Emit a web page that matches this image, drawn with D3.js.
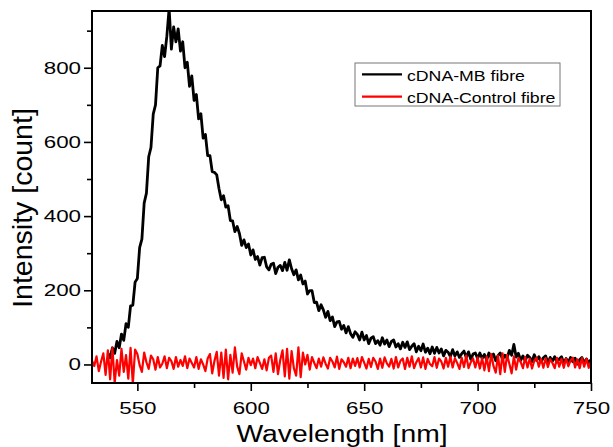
<!DOCTYPE html>
<html>
<head>
<meta charset="utf-8">
<script src="https://cdn.jsdelivr.net/npm/d3@7"></script>
<style>
  body { margin: 0; background: #fff; }
  text { font-family: "Liberation Sans", Arial, sans-serif; }
</style>
</head>
<body>
<svg id="chart"></svg>
<script>
// cDNA-MB fibre, 1 nm steps starting at 537 nm
const mbStart = 537;
const mbValues = [
  30, 18, 45, 30, 62, 45, 82, 65, 110, 100, 158, 160, 222, 232, 315, 338, 435, 462, 560, 585, 675, 700, 800, 805,
  860, 830, 885, 960, 850, 910, 870, 905, 845, 870, 800, 815, 750, 778, 712, 728, 662, 676, 610, 620,
  563, 563, 520, 518, 511, 474, 444, 455, 424, 428, 388, 387, 358, 372, 353, 321, 336, 315, 325, 295,
  309, 283, 291, 268, 288, 289, 263, 255, 270, 273, 245, 262, 267, 253, 275, 254, 282, 258, 242, 255,
  228, 241, 217, 225, 190, 199, 199, 167, 168, 145, 161, 147, 127, 143, 118, 128, 102, 115, 116, 95,
  105, 85, 102, 83, 73, 88, 81, 66, 87, 66, 78, 56, 71, 75, 56, 64, 52, 72, 55, 66,
  48, 62, 66, 47, 56, 42, 60, 46, 61, 40, 49, 56, 34, 49, 37, 55, 33, 44, 29, 47,
  30, 46, 31, 42, 23, 38, 33, 21, 40, 23, 34, 19, 29, 36, 19, 34, 14, 28, 31, 16,
  31, 16, 27, 12, 31, 18, 28, 10, 24, 31, 13, 25, 17, 38, 25, 54, 20, 30, 11, 23,
  10, 25, 19, 8, 26, 11, 21, 7, 18, 23, 4, 19, 9, 21, 6, 15, 21, 4, 16, 5,
  19, 7, 17, 1, 13, 19, 4, 15, 2, 14
];

// cDNA-Control fibre, 1 nm steps starting at 530 nm
const ctrlStart = 530;
const ctrlValues = [
  10, -4, 22, -18, 8, 30, -28, 38, -40, 45, -50, 12, -30, 42, -20, 25, -38, 45, -52, 40,
  28, -2, -20, 32, 6, -12, 24, 14, -14, 20, -8, 2, 22, -10, 18, 9, -12, 20, -6, 12,
  -4, 22, -10, 16, 4, -8, 20, -12, 14, 0, -18, 16, 28, -24, 10, 34, -30, 32, -36, 40,
  -40, 26, -22, 46, -6, -26, 30, 8, -14, 18, -2, 16, -10, 20, 4, -12, 14, -16, 18, 24,
  -20, 30, -26, 12, 38, -32, 42, -38, 36, -10, -30, 46, -34, 32, 0, 26, -14, 20, 4, -10,
  16, -6, 19, 2, -11, 18, 8, -8, 21, -12, 14, 6, -6, 18, -10, 16, -4, 17, -8, 20,
  5, -11, 15, -7, 18, 8, -12, 16, -9, 19, 3, -6, 15, -11, 20, -8, 10, 16, -12, 18,
  -6, 22, -10, 6, 17, -8, 19, -12, 15, 1, -5, 20, -9, 16, 8, -11, 18, -6, 21, -8,
  17, 4, -12, 18, -7, 24, -10, 6, 16, -8, 19, -11, 17, -16, 21, -18, 28, -4, -22, 24,
  -26, 30, -20, 26, 2, -24, 22, -14, 18, 6, -10, 20, -8, 16, -11, 10, 18, -6, 15, -9,
  17, -7, 14, 4, -10, 18, -6, 15, -9, 16, -5, 11, 18, -8, 14, -10, 17, -6, 15, -9,
  10
];

const xTicks = [550, 600, 650, 700, 750];
const yTicks = [0, 200, 400, 600, 800];
const seriesNames = ["cDNA-MB fibre", "cDNA-Control fibre"];
const seriesColors = ["#000000", "#ff0000"];

const width = 613, height = 447;
const margin = { top: 11, right: 22, bottom: 64, left: 92 };
const innerW = width - margin.left - margin.right;
const innerH = height - margin.top - margin.bottom;

const svg = d3.select("#chart").attr("width", width).attr("height", height);
const g = svg.append("g").attr("transform", `translate(${margin.left},${margin.top})`);

const x = d3.scaleLinear().domain([530, 750]).range([0, innerW]);
const y = d3.scaleLinear().domain([-50, 953]).range([innerH, 0]);

const mbData = mbValues.map((v, i) => ({ wl: mbStart + i, val: v }));
const ctrlData = ctrlValues.map((v, i) => ({ wl: ctrlStart + i, val: v }));

g.append("clipPath").attr("id", "clip")
  .append("rect").attr("width", innerW).attr("height", innerH);

const line = d3.line().x(d => x(d.wl)).y(d => y(d.val));

const plot = g.append("g").attr("clip-path", "url(#clip)");
plot.append("path").datum(mbData)
  .attr("d", line).attr("fill", "none")
  .attr("stroke", seriesColors[0]).attr("stroke-width", 2.8).attr("stroke-linejoin", "round");
plot.append("path").datum(ctrlData)
  .attr("d", line).attr("fill", "none")
  .attr("stroke", seriesColors[1]).attr("stroke-width", 2.2).attr("stroke-linejoin", "round");

// minor ticks
const xMinor = d3.range(575, 750, 50);
const yMinor = d3.range(100, 950, 200);

// the original text is stretched sideways, so labels get a horizontal scale
const stretch = 1.3;

const xAxis = g.append("g").attr("transform", `translate(0,${innerH})`)
  .call(d3.axisBottom(x).tickValues(xTicks).tickSize(8).tickPadding(11).tickFormat(d3.format("d")));
g.append("g").attr("transform", `translate(0,${innerH})`)
  .call(d3.axisBottom(x).tickValues(xMinor).tickSize(5).tickFormat(""));

const yAxis = g.append("g")
  .call(d3.axisLeft(y).tickValues(yTicks).tickSize(8).tickPadding(3).tickFormat(d3.format("d")));
g.append("g")
  .call(d3.axisLeft(y).tickValues(yMinor).tickSize(5).tickFormat(""));

g.selectAll(".domain").remove();
g.selectAll(".tick line").attr("stroke", "#000").attr("stroke-width", 1.6);
g.selectAll(".tick text").style("font-size", "17.2px").attr("fill", "#000")
  .attr("transform", `scale(${stretch},1)`);
yAxis.selectAll(".tick text").attr("x", -11 / stretch);

// frame
g.append("rect")
  .attr("width", innerW).attr("height", innerH)
  .attr("fill", "none").attr("stroke", "#000").attr("stroke-width", 2);

// axis titles
svg.append("text")
  .attr("transform", "translate(342,442) scale(1.23,1)")
  .attr("text-anchor", "middle")
  .style("font-size", "23px")
  .text("Wavelength [nm]");

svg.append("text")
  .attr("transform", "translate(32,208) rotate(-90)")
  .attr("text-anchor", "middle")
  .style("font-size", "28.5px")
  .text("Intensity [count]");

// legend
const legend = svg.append("g").attr("transform", "translate(355,63)");
legend.append("rect")
  .attr("width", 205).attr("height", 43)
  .attr("fill", "#fff").attr("stroke", "#777").attr("stroke-width", 1);
seriesNames.forEach((name, i) => {
  legend.append("line")
    .attr("x1", 7).attr("x2", 47)
    .attr("y1", 11.3 + i * 22.4).attr("y2", 11.3 + i * 22.4)
    .attr("stroke", seriesColors[i]).attr("stroke-width", 2.2);
  legend.append("text")
    .attr("transform", `translate(52,${17.7 + i * 22})  scale(1.18,1)`)
    .style("font-size", "15px")
    .text(name);
});
</script>
</body>
</html>
